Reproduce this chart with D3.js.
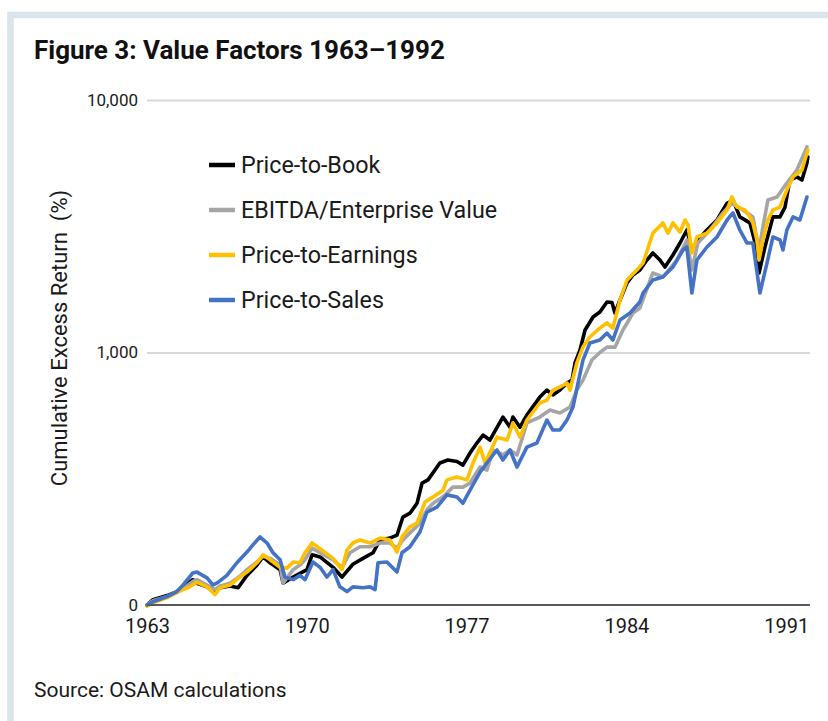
<!DOCTYPE html>
<html><head><meta charset="utf-8">
<script src="https://cdn.jsdelivr.net/npm/d3@7"></script>
<style>
body{margin:0;background:#fff;}
svg{display:block;font-family:Roboto,"Liberation Sans",Arial,sans-serif;}
</style>
</head><body>
<svg id="chart" width="828" height="721"></svg>
<script>
// ---- Data ----
const titleText = "Figure 3: Value Factors 1963\u20131992";
const sourceText = "Source: OSAM calculations";
const yAxisTitle = "Cumulative Excess Return  (%)";
const seriesNames = ["Price-to-Book", "EBITDA/Enterprise Value", "Price-to-Earnings", "Price-to-Sales"];
const seriesColors = ["#000000", "#a5a5a5", "#ffc000", "#4472c4"];
const xTickYears = [1963, 1970, 1977, 1984, 1991];
const yTickValues = [100, 1000, 10000];
const yTickLabels = ["0", "1,000", "10,000"];

const priceToBook = [
 [1963.00,100],[1963.26,105],[1963.88,109],[1964.31,113],[1964.58,117],[1965.01,126],[1965.19,122],
 [1965.63,118],[1965.98,112],[1966.20,117],[1966.64,119],[1966.99,117],[1967.38,131],[1967.82,144],
 [1968.08,155],[1968.39,147],[1968.83,138],[1968.96,122],[1969.40,129],[1970.01,138],[1970.23,158],
 [1970.58,155],[1971.15,141],[1971.54,129],[1972.02,145],[1972.46,153],[1972.90,161],[1973.21,181],
 [1973.64,184],[1973.95,189],[1974.21,223],[1974.52,231],[1974.83,253],[1975.05,304],[1975.31,313],
 [1975.83,365],[1976.18,375],[1976.58,370],[1976.84,358],[1977.15,400],[1977.45,438],[1977.72,471],
 [1978.02,450],[1978.59,555],[1978.90,506],[1979.03,555],[1979.34,506],[1979.64,565],[1980.21,666],
 [1980.52,710],[1980.78,679],[1981.09,710],[1981.40,757],[1981.62,778],[1981.75,909],[1981.97,1023],
 [1982.19,1228],[1982.54,1382],[1982.84,1447],[1983.15,1585],[1983.37,1578],[1983.50,1434],[1983.72,1614],
 [1984.03,1886],[1984.29,2027],[1984.59,2122],[1984.90,2324],[1985.16,2478],[1985.47,2324],[1985.69,2180],
 [1986.04,2433],[1986.35,2715],[1986.65,3056],[1986.87,2546],[1987.13,2790],[1987.53,3056],[1987.97,3348],
 [1988.41,3900],[1988.67,4018],[1988.97,3444],[1989.41,3260],[1989.72,2546],[1989.81,2065],[1990.07,2617],
 [1990.42,3444],[1990.73,3444],[1990.95,3767],[1991.16,4822],[1991.47,4960],[1991.69,4822],[1991.91,5630],
 [1991.95,5950]
];
const ebitdaEv = [
 [1963.00,100],[1963.26,104],[1963.88,108],[1964.31,113],[1964.58,116],[1965.01,124],[1965.19,126],
 [1965.63,120],[1965.98,115],[1966.20,119],[1966.64,122],[1967.07,130],[1967.38,138],[1967.82,148],
 [1968.08,156],[1968.39,153],[1968.83,144],[1968.96,122],[1969.40,138],[1969.70,144],[1969.92,151],
 [1970.23,168],[1970.58,161],[1971.15,151],[1971.54,141],[1971.89,161],[1972.33,170],[1972.77,170],
 [1973.21,176],[1973.64,176],[1973.95,168],[1974.21,181],[1974.52,193],[1974.96,211],[1975.26,238],
 [1975.53,253],[1975.97,268],[1976.40,293],[1976.84,293],[1977.15,304],[1977.59,352],[1977.89,342],
 [1978.16,411],[1978.59,393],[1978.90,411],[1979.21,393],[1979.64,526],[1980.21,555],[1980.65,592],
 [1981.09,576],[1981.53,608],[1981.83,710],[1982.10,778],[1982.49,934],[1982.84,1000],[1983.15,1050],
 [1983.50,1050],[1983.85,1228],[1984.29,1434],[1984.59,1500],[1985.16,2065],[1985.60,1990],[1986.21,2324],
 [1986.65,2790],[1986.87,2122],[1987.13,2715],[1987.66,3056],[1988.23,3570],[1988.62,3900],[1989.11,3667],
 [1989.54,3444],[1989.81,2546],[1989.98,3140],[1990.20,4018],[1990.60,4130],[1991.03,4690],[1991.47,5282],
 [1991.91,6520]
];
const priceToEarnings = [
 [1963.00,99],[1963.26,102],[1963.88,107],[1964.31,112],[1964.58,115],[1964.88,118],[1965.19,123],
 [1965.63,118],[1965.98,110],[1966.20,117],[1966.64,120],[1967.07,129],[1967.38,135],[1967.82,147],
 [1968.08,158],[1968.39,151],[1968.83,141],[1969.13,140],[1969.40,148],[1969.70,147],[1969.92,161],
 [1970.23,176],[1970.58,167],[1971.15,153],[1971.54,138],[1971.76,165],[1972.02,176],[1972.33,181],
 [1972.77,176],[1973.21,184],[1973.64,181],[1973.95,162],[1974.17,186],[1974.52,204],[1974.83,211],
 [1975.18,256],[1975.53,268],[1975.97,285],[1976.14,313],[1976.58,321],[1977.02,313],[1977.28,365],
 [1977.59,422],[1977.81,365],[1978.33,462],[1978.77,450],[1979.03,526],[1979.34,462],[1979.64,540],
 [1980.21,631],[1980.52,648],[1980.78,710],[1981.09,730],[1981.40,757],[1981.53,710],[1981.83,909],
 [1982.10,1052],[1982.40,1152],[1982.84,1250],[1983.15,1310],[1983.41,1250],[1983.72,1614],[1984.03,1937],
 [1984.46,2122],[1984.73,2260],[1985.16,2970],[1985.60,3260],[1985.82,2970],[1986.04,3260],[1986.35,3000],
 [1986.57,3348],[1986.70,3198],[1986.87,2478],[1987.09,2868],[1987.53,2970],[1987.97,3260],[1988.41,3667],
 [1988.62,4130],[1988.84,3767],[1989.19,3667],[1989.41,3444],[1989.54,3260],[1989.72,2790],[1989.81,2324],
 [1989.98,2790],[1990.20,3348],[1990.42,3667],[1990.73,3767],[1991.03,4401],[1991.30,4960],[1991.69,5282],
 [1991.91,6170],[1991.95,6339]
];
const priceToSales = [
 [1963.00,100],[1963.26,103],[1963.88,108],[1964.31,113],[1964.58,120],[1965.01,134],[1965.19,135],
 [1965.63,128],[1965.89,120],[1966.11,123],[1966.50,131],[1966.94,147],[1967.38,162],[1967.64,173],
 [1967.95,186],[1968.26,176],[1968.52,161],[1968.83,151],[1969.04,129],[1969.40,126],[1969.70,131],
 [1969.92,126],[1970.27,148],[1970.58,141],[1970.88,129],[1971.15,138],[1971.45,118],[1971.76,113],
 [1972.02,118],[1972.46,117],[1972.77,118],[1972.99,115],[1973.12,147],[1973.51,148],[1973.95,135],
 [1974.17,161],[1974.52,170],[1974.96,195],[1975.26,233],[1975.70,244],[1976.14,273],[1976.58,268],
 [1976.84,253],[1977.15,285],[1977.59,336],[1977.89,365],[1978.33,411],[1978.59,375],[1978.90,411],
 [1979.21,352],[1979.64,422],[1980.08,438],[1980.52,540],[1980.78,493],[1981.09,493],[1981.40,540],
 [1981.66,608],[1981.88,757],[1982.10,934],[1982.40,1090],[1982.84,1121],[1983.15,1194],[1983.41,1121],
 [1983.72,1345],[1984.16,1434],[1984.59,1585],[1984.73,1720],[1985.16,1937],[1985.60,1990],[1986.04,2180],
 [1986.48,2546],[1986.65,2617],[1986.87,1720],[1987.09,2324],[1987.53,2617],[1987.97,2868],[1988.41,3348],
 [1988.67,3570],[1988.97,3056],[1989.28,2715],[1989.54,2715],[1989.85,1720],[1990.16,2263],[1990.42,2868],
 [1990.73,2790],[1990.86,2546],[1991.03,3056],[1991.30,3444],[1991.60,3348],[1991.91,4130]
];
const allSeries = [priceToBook, ebitdaEv, priceToEarnings, priceToSales];

// ---- Drawing ----
const svg = d3.select("#chart");
const plot = {left: 147, right: 809, top: 100, bottom: 605};

// panel frame
svg.append("rect").attr("x", 10.5).attr("y", 15).attr("width", 900).attr("height", 900)
  .attr("fill", "none").attr("stroke", "#dce4eb").attr("stroke-width", 6.5);

const x = d3.scaleLinear().domain([1963, 1992]).range([plot.left, plot.right]);
const y = d3.scaleLog().domain([100, 10000]).range([plot.bottom, plot.top]);

// gridlines
svg.append("g").attr("transform", `translate(${plot.left},0)`)
  .call(d3.axisLeft(y).tickValues(yTickValues.slice(1)).tickSize(-(plot.right - plot.left + 1)).tickFormat(""))
  .call(g => g.select(".domain").remove())
  .call(g => g.selectAll("line").attr("stroke", "#d9d9d9").attr("stroke-width", 2));

// y tick labels
svg.append("g").attr("transform", `translate(${plot.left},0)`)
  .call(d3.axisLeft(y).tickValues(yTickValues).tickSize(0).tickPadding(9)
    .tickFormat((d, i) => yTickLabels[i]))
  .call(g => g.select(".domain").remove())
  .call(g => g.selectAll("text").attr("font-size", 17).attr("fill", "#1a1a1a")
    .attr("font-family", "Roboto, 'Liberation Sans', sans-serif"));

// lines
const line = d3.line().x(d => x(d[0])).y(d => y(d[1]));
allSeries.forEach((s, i) => {
  svg.append("path").datum(s).attr("d", line)
    .attr("fill", "none").attr("stroke", seriesColors[i]).attr("stroke-width", 3.6)
    .attr("stroke-linejoin", "round").attr("stroke-linecap", "round");
});

// x axis
svg.append("g").attr("transform", `translate(0,${plot.bottom})`)
  .call(d3.axisBottom(x).tickValues(xTickYears).tickSize(0).tickPadding(14).tickFormat(d3.format("d")))
  .call(g => g.select(".domain").attr("stroke", "#595959").attr("stroke-width", 2)
     .attr("d", `M${plot.left},0H${plot.right + 1}`))
  .call(g => g.selectAll("text").attr("font-size", 20).attr("fill", "#1a1a1a")
    .attr("font-family", "Roboto, 'Liberation Sans', sans-serif"));

// title
svg.append("text").attr("x", 34).attr("y", 59).text(titleText)
  .attr("font-size", 26).attr("font-weight", "bold").attr("fill", "#111");

// y axis title
svg.append("text").attr("transform", "translate(67,338) rotate(-90)")
  .attr("text-anchor", "middle").text(yAxisTitle)
  .attr("font-size", 22).attr("fill", "#1a1a1a").style("white-space", "pre");

// legend
const legendTop = 165, legendStep = 45;
seriesNames.forEach((name, i) => {
  const ly = legendTop + i * legendStep;
  svg.append("line").attr("x1", 209).attr("x2", 235).attr("y1", ly).attr("y2", ly)
    .attr("stroke", seriesColors[i]).attr("stroke-width", 4.5);
  svg.append("text").attr("x", 241).attr("y", ly).attr("dy", "0.36em").text(name)
    .attr("font-size", 23.3).attr("fill", "#1a1a1a");
});

// source
svg.append("text").attr("x", 34).attr("y", 697).text(sourceText)
  .attr("font-size", 21).attr("fill", "#1a1a1a");
</script>
</body></html>
